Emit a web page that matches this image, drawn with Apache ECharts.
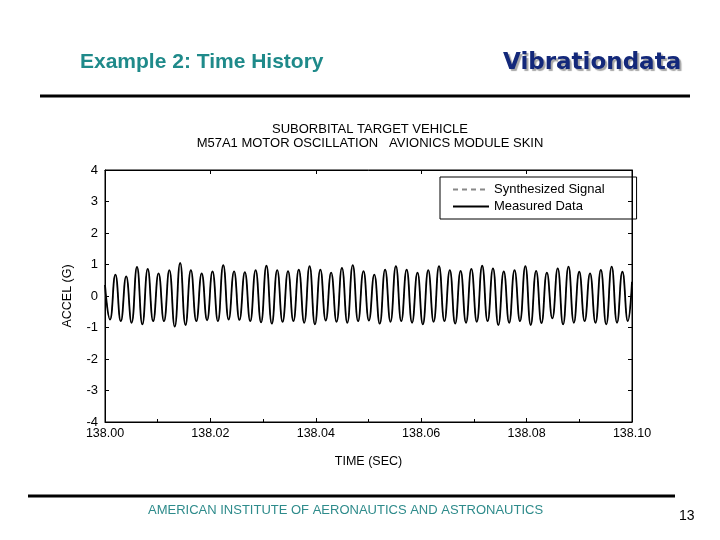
<!DOCTYPE html>
<html>
<head>
<meta charset="utf-8">
<script src="https://cdn.jsdelivr.net/npm/echarts@6/dist/echarts.min.js"></script>
<style>html,body{margin:0;padding:0;background:#fff}#c{width:720px;height:540px}</style>
</head>
<body>
<div id="c"></div>
<script>
// Time offsets (ms after 138.00 s) of each read extremum (trough, peak, trough, ...)
var extremaTimes = [0.95,1.97,3.00,4.02,5.04,6.07,7.09,8.11,9.14,10.16,11.19,12.21,13.23,14.26,15.28,16.30,17.33,18.35,19.37,20.40,21.42,22.44,23.47,24.49,25.51,26.54,27.56,28.58,29.61,30.63,31.66,32.68,33.70,34.73,35.75,36.77,37.80,38.82,39.84,40.87,41.89,42.91,43.94,44.96,45.98,47.01,48.03,49.05,50.08,51.10,52.13,53.15,54.17,55.20,56.22,57.24,58.27,59.29,60.31,61.34,62.36,63.38,64.41,65.43,66.45,67.48,68.50,69.52,70.55,71.57,72.60,73.62,74.64,75.67,76.69,77.71,78.74,79.76,80.78,81.81,82.83,83.85,84.88,85.90,86.92,87.95,88.97,89.99,91.02,92.04,93.07,94.09,95.11,96.14,97.16,98.18,99.21];
var troughs = [-0.75,-0.80,-0.85,-0.90,-0.80,-0.80,-0.97,-0.92,-0.80,-0.77,-0.80,-0.75,-0.76,-0.80,-0.84,-0.88,-0.82,
  -0.80,-0.85,-0.90,-0.78,-0.82,-0.85,-0.80,-0.78,-0.88,-0.82,-0.80,-0.85,-0.90,-0.82,-0.80,-0.88,
  -0.85,-0.82,-0.80,-0.92,-0.85,-0.80,-0.92,-0.86,-0.71,-0.90,-0.85,-0.80,-0.85,-0.90,-0.85,-0.80];
var peaks = [0.68,0.62,0.92,0.86,0.72,0.82,1.05,0.82,0.72,0.78,0.98,0.78,0.76,0.82,0.96,0.82,
  0.79,0.84,0.95,0.84,0.74,0.89,0.98,0.79,0.68,0.84,0.95,0.84,0.74,0.82,0.95,0.82,
  0.80,0.86,0.96,0.88,0.78,0.82,0.95,0.80,0.74,0.88,0.93,0.77,0.72,0.83,0.93,0.77];
var startPoint = [0, 0.35];
var endPoint = [100, 0.45];
var yTicks = ['4','3','2','1','0','-1','-2','-3','-4'];
var xTickLabels = ['138.00','138.02','138.04','138.06','138.08','138.10'];

var measured = [startPoint];
for (var j = 0; j < extremaTimes.length; j++) {
  var v = (j % 2 === 0) ? troughs[j / 2] : peaks[(j - 1) / 2];
  measured.push([extremaTimes[j], v]);
}
measured.push(endPoint);

var FONT = 'Liberation Sans, Arial, sans-serif';
var tick = {show: true, inside: true, length: 4, lineStyle: {color: '#000'}};
var line = {show: true, onZero: false, lineStyle: {color: '#000'}};
var chart = echarts.init(document.getElementById('c'));
chart.setOption({
  animation: false,
  backgroundColor: '#fff',
  title: {
    text: 'SUBORBITAL TARGET VEHICLE\nM57A1 MOTOR OSCILLATION   AVIONICS MODULE SKIN',
    left: 365, top: 117, textAlign: 'center',
    textStyle: {fontFamily: FONT, fontSize: 13, fontWeight: 'normal', color: '#000', lineHeight: 14}
  },
  legend: {
    orient: 'vertical', left: 440, top: 177, width: 196,
    data: ['Synthesized Signal', 'Measured Data'],
    itemWidth: 36, itemHeight: 10, itemGap: 4,
    padding: [6, 32, 6, 12],
    borderColor: '#000', borderWidth: 1,
    itemStyle: {opacity: 0},
    textStyle: {fontFamily: FONT, fontSize: 13, color: '#000'}
  },
  grid: {left: 105, right: 88, top: 170, bottom: 118, show: true, borderColor: '#000', borderWidth: 1},
  xAxis: [{
    type: 'value', min: 0, max: 100, interval: 20,
    name: 'TIME (SEC)', nameLocation: 'middle', nameGap: 33,
    nameTextStyle: {fontFamily: FONT, fontSize: 12.5, color: '#000'},
    axisLine: line, axisTick: tick,
    minorTick: {show: true, splitNumber: 2, length: 3, lineStyle: {color: '#000'}},
    splitLine: {show: false},
    axisLabel: {margin: 5, fontFamily: FONT, fontSize: 12.5, color: '#000',
      formatter: function (v) { return xTickLabels[Math.round(v / 20)]; }}
  }, {
    type: 'value', min: 0, max: 100, interval: 20, position: 'top',
    axisLine: line, axisTick: tick,
    axisLabel: {show: false}, splitLine: {show: false}
  }],
  yAxis: [{
    type: 'value', min: -4, max: 4, interval: 1,
    name: 'ACCEL (G)', nameLocation: 'middle', nameGap: 31, nameRotate: 90,
    nameTextStyle: {fontFamily: FONT, fontSize: 12.5, color: '#000'},
    axisLine: line, axisTick: tick,
    splitLine: {show: false},
    axisLabel: {margin: 7, fontFamily: FONT, fontSize: 13, color: '#000',
      formatter: function (v) { return yTicks[4 - Math.round(v)]; }}
  }, {
    type: 'value', min: -4, max: 4, interval: 1, position: 'right',
    axisLine: line, axisTick: tick,
    axisLabel: {show: false}, splitLine: {show: false}
  }],
  series: [{
    name: 'Synthesized Signal', type: 'line', data: measured, smooth: 0.5,
    symbol: 'none', z: 2,
    lineStyle: {color: '#888', width: 1, type: [5, 4]},
    itemStyle: {color: '#888'}
  }, {
    name: 'Measured Data', type: 'line', data: measured, smooth: 0.5,
    symbol: 'none', z: 3,
    lineStyle: {color: '#000', width: 1.8},
    itemStyle: {color: '#000'}
  }],
  graphic: [
    {type: 'text', left: 80, top: 52, style: {text: 'Example 2: Time History', fill: '#1f8a8a',
      font: 'bold 21px Liberation Sans, Arial, sans-serif'}},
    {type: 'text', left: 503, top: 52, style: {text: 'Vibrationdata', fill: '#13287a',
      font: 'bold 23px DejaVu Sans, sans-serif', textShadowColor: 'rgba(0,0,0,0.35)', textShadowOffsetX: 2, textShadowOffsetY: 2, textShadowBlur: 1}},
    {type: 'line', shape: {x1: 40, y1: 96, x2: 690, y2: 96}, style: {stroke: '#000', lineWidth: 3}},
    {type: 'line', shape: {x1: 28, y1: 496, x2: 675, y2: 496}, style: {stroke: '#000', lineWidth: 3}},
    {type: 'text', left: 148, top: 504, style: {text: 'AMERICAN INSTITUTE OF AERONAUTICS AND ASTRONAUTICS', fill: '#2e8b8b',
      font: '13px Liberation Sans, Arial, sans-serif'}},
    {type: 'text', left: 679, top: 509, style: {text: '13', fill: '#000', font: '14px Liberation Sans, Arial, sans-serif'}}
  ]
});
</script>
</body>
</html>
